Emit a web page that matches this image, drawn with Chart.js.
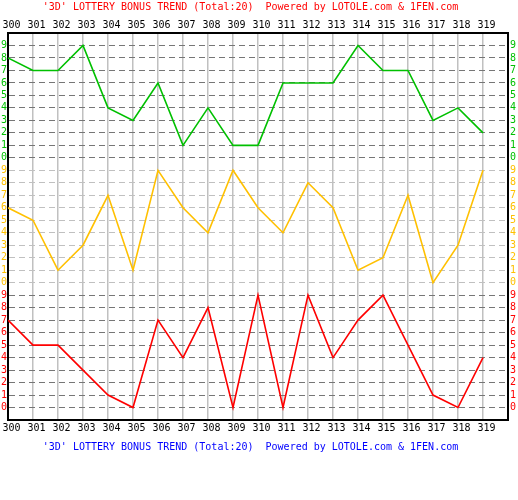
<!DOCTYPE html>
<html><head><meta charset="utf-8">
<script src="https://cdn.jsdelivr.net/npm/chart.js@4"></script>
<style>html,body{margin:0;padding:0;background:#fff}canvas{display:block}</style>
</head><body>
<canvas id="c" width="518" height="500"></canvas>
<script>
// ---- data ----
const periods = [300,301,302,303,304,305,306,307,308,309,310,311,312,313,314,315,316,317,318,319];
const greenValues  = [8,7,7,9,4,3,6,1,4,1,1,6,6,6,9,7,7,3,4,2];
const yellowValues = [6,5,1,3,7,1,9,6,4,9,6,4,8,6,1,2,7,0,3,9];
const redValues    = [7,5,5,3,1,0,7,4,8,0,9,0,9,4,7,9,5,1,0,4];
const digitLabels  = ['0','1','2','3','4','5','6','7','8','9'];
const titleText = "'3D' LOTTERY BONUS TREND (Total:20)  Powered by LOTOLE.com & 1FEN.com";

// ---- band layout on the shared value axis ----
const RED_BASE = 1, YEL_BASE = 11, GRN_BASE = 21, Y_MAX = 31;
const X_MIN = 300, X_MAX = 320;
const COL = { green: '#00c000', yellow: '#ffc000', red: '#ff0000' };

function bandOf(v) {
  if (v >= GRN_BASE && v <= GRN_BASE + 9) return 'green';
  if (v >= YEL_BASE && v <= YEL_BASE + 9) return 'yellow';
  if (v >= RED_BASE && v <= RED_BASE + 9) return 'red';
  return null;
}
function baseOf(b) { return b === 'green' ? GRN_BASE : b === 'yellow' ? YEL_BASE : RED_BASE; }
function yLabel(v) { const b = bandOf(v); return b ? digitLabels[v - baseOf(b)] : ''; }
function yColor(v) { const b = bandOf(v); return b ? COL[b] : '#000'; }
function gridColor(v) {
  const b = bandOf(v);
  if (!b) return 'rgba(0,0,0,0)';
  return b === 'yellow' ? '#c0c0c0' : '#767676';
}
const mk = (vals, base) => periods.map((p, i) => ({ x: p, y: vals[i] + base }));

const tickFont = { family: '"DejaVu Sans Mono", monospace', size: 10 };
const xTicks = () => { const a = []; for (let v = X_MIN; v <= X_MAX; v++) a.push({ value: v }); return a; };
const yTicks = () => { const a = []; for (let v = 0; v <= Y_MAX; v++) a.push({ value: v }); return a; };
const xLabel = v => periods.includes(v) ? String(v) : '';

const titlesPlugin = {
  id: 'titles',
  afterDraw(chart) {
    const ctx = chart.ctx;
    ctx.save();
    ctx.font = '10px "DejaVu Sans Mono", monospace';
    ctx.textAlign = 'center';
    ctx.textBaseline = 'middle';
    ctx.fillStyle = '#ff0000';
    ctx.fillText(titleText, 250.5, 7.5);
    ctx.fillStyle = '#0000ff';
    ctx.fillText(titleText, 250.5, 447.5);
    ctx.restore();
  }
};

const xCommon = {
  type: 'linear', min: X_MIN, max: X_MAX,
  afterBuildTicks: s => { s.ticks = xTicks(); },
  ticks: { autoSkip: false, maxRotation: 0, minRotation: 0, padding: 2, labelOffset: 3.5,
           color: '#000', font: tickFont, callback: v => xLabel(v) },
  border: { color: '#000', width: 2 },
  afterFit: s => { s.height = 18; s.paddingLeft = 0; s.paddingRight = 0; }
};
const yCommon = {
  type: 'linear', min: 0, max: Y_MAX,
  afterBuildTicks: s => { s.ticks = yTicks(); },
  ticks: { autoSkip: false, font: tickFont, color: c => yColor(c.tick.value), callback: v => yLabel(v) },
  border: { color: '#000', width: 2, dash: [6, 4] }
};

new Chart(document.getElementById('c'), {
  type: 'line',
  data: {
    datasets: [
      { label: 'green', data: mk(greenValues, GRN_BASE), borderColor: COL.green },
      { label: 'yellow', data: mk(yellowValues, YEL_BASE), borderColor: COL.yellow },
      { label: 'red', data: mk(redValues, RED_BASE), borderColor: COL.red }
    ].map(d => Object.assign(d, { borderWidth: 1.6, pointRadius: 0, tension: 0, fill: false }))
  },
  options: {
    responsive: false, animation: false,
    layout: { padding: { top: 15, bottom: 62, left: 0, right: 0 } },
    plugins: { legend: { display: false }, tooltip: { enabled: false }, title: { display: false } },
    scales: {
      x: Object.assign({}, xCommon, { position: 'bottom',
        grid: { color: '#c0c0c0', lineWidth: 1.5, drawTicks: false } }),
      x2: Object.assign({}, xCommon, { position: 'top', grid: { display: false, drawTicks: false } }),
      y: Object.assign({}, yCommon, { position: 'left',
        ticks: Object.assign({}, yCommon.ticks, { padding: 1 }),
        grid: { color: c => gridColor(c.tick.value), lineWidth: 1, drawTicks: false },
        afterFit: s => { s.width = 8; s.paddingTop = 0; s.paddingBottom = 0; } }),
      y2: Object.assign({}, yCommon, { position: 'right',
        ticks: Object.assign({}, yCommon.ticks, { padding: 2 }),
        grid: { display: false, drawTicks: false },
        afterFit: s => { s.width = 10; s.paddingTop = 0; s.paddingBottom = 0; } })
    }
  },
  plugins: [titlesPlugin]
});
</script>
</body></html>
